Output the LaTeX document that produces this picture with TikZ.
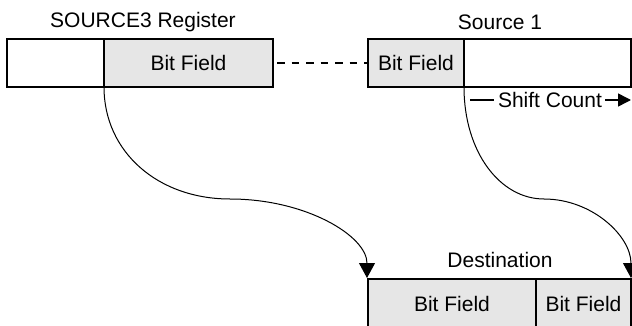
\documentclass[tikz,border=0pt]{standalone}
\usepackage{fontspec}
\setmainfont{Liberation Sans}
\usetikzlibrary{arrows.meta}
\definecolor{fieldgray}{HTML}{E6E6E6}
\tikzset{
  cell/.style={draw=black, line width=2.2pt, inner sep=0pt, anchor=center, font=\fontsize{21}{25}\selectfont},
  field/.style={cell, fill=fieldgray},
  lbl/.style={inner sep=0pt, font=\fontsize{21}{25}\selectfont},
  flow/.style={line width=1pt, -{Triangle[length=15pt,width=16pt]}},
}
\begin{document}
\begin{tikzpicture}[x=1pt,y=-1pt]
\useasboundingbox (0,0) rectangle (632,326);
% SOURCE3 register
\node[cell, minimum width=97pt, minimum height=48pt] (s3L) at (55.5,63) {};
\node[field, minimum width=169pt, minimum height=48pt] (s3R) at (188.5,63) {Bit Field};
\node[lbl] (s3lbl) at (143,22) {SOURCE3 Register};
% Source 1
\node[field, minimum width=96pt, minimum height=48pt] (s1L) at (416,63) {Bit Field};
\node[cell, minimum width=167pt, minimum height=48pt] (s1R) at (547.5,63) {};
\node[lbl] (s1lbl) at (500,22) {Source 1};
% Destination
\node[field, minimum width=168pt, minimum height=50pt] (dL) at (452,304) {Bit Field};
\node[field, minimum width=95pt, minimum height=50pt] (dR) at (583.5,304) {Bit Field};
\node[lbl] (dlbl) at (500,260) {Destination};
% dashed link
\draw[line width=1.4pt, dash pattern=on 7.5pt off 7pt, dash phase=-3pt] (s3R.east) -- (s1L.west);
% shift count
\node[lbl] (sc) at (550,100) {Shift Count};
\coordinate (scA) at (470,100);
\coordinate (scB) at (631,100);
\draw[line width=1.5pt] (scA) -- ([xshift=-4pt]sc.west);
\draw[line width=1.5pt, -{Triangle[length=13pt,width=13pt]}] ([xshift=3pt]sc.east) -- (scB);
% curves
\coordinate (c1s) at (104,87);
\coordinate (c1m) at (230,199);
\coordinate (c1e) at (367,278);
\coordinate (c2s) at (464,87);
\coordinate (c2m) at (544,199);
\coordinate (c2e) at (631,278);
\draw[flow] (c1s) .. controls (104,152) and (158,199) .. (c1m)
                  .. controls (306,199) and (367,236) .. (c1e);
\draw[flow] (c2s) .. controls (464,152) and (500,199) .. (c2m)
                  .. controls (592,199) and (631,236) .. (c2e);
\end{tikzpicture}
\end{document}
